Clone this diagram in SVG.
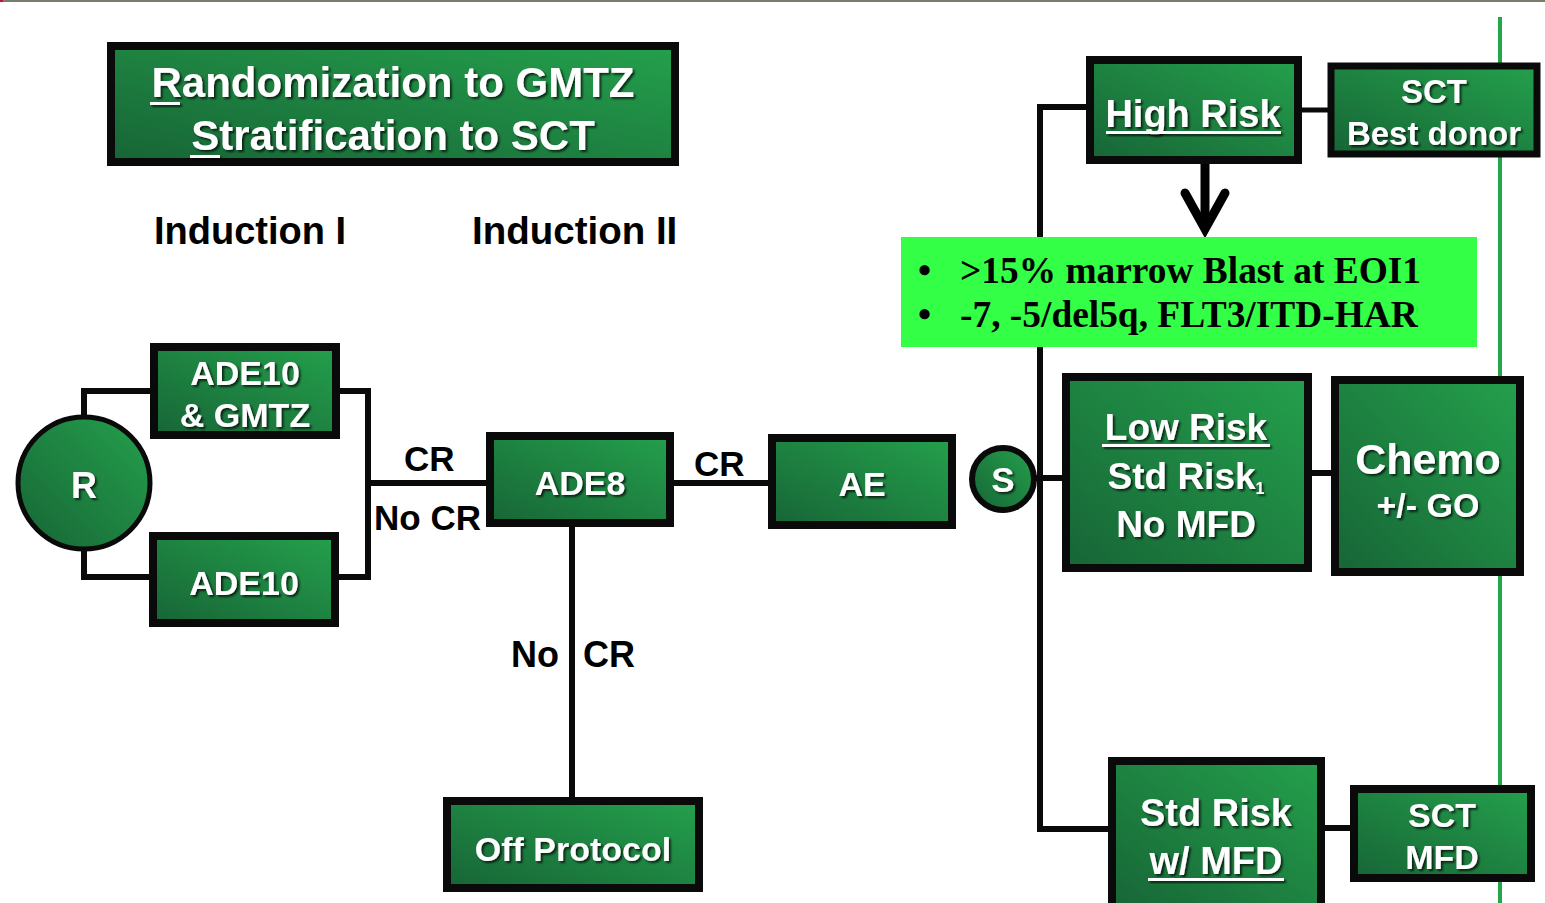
<svg xmlns="http://www.w3.org/2000/svg" width="1545" height="903" viewBox="0 0 1545 903">
<defs>
<linearGradient id="gf" x1="0" y1="1" x2="1" y2="0">
<stop offset="0" stop-color="#176536"/>
<stop offset="1" stop-color="#24a04c"/>
</linearGradient>
<filter id="sh" x="-10%" y="-50%" width="130%" height="250%">
<feDropShadow dx="2" dy="2" stdDeviation="1.2" flood-color="#000" flood-opacity="0.7"/>
</filter>
<style>
.box{fill:url(#gf);stroke:#0a0a0a;stroke-width:8}
.circ{fill:url(#gf);stroke:#0a0a0a;stroke-width:5}
.wt{fill:#fff;font-family:"Liberation Sans",Arial,sans-serif;font-weight:bold;text-anchor:middle;filter:url(#sh)}
.bt{fill:#000;font-family:"Liberation Sans",Arial,sans-serif;font-weight:bold}
.ln{fill:none;stroke:#0a0a0a;stroke-width:6}
.ul{fill:#fff;filter:url(#sh)}
.gt{fill:#000;font-family:"Liberation Serif","Times New Roman",serif;font-weight:bold;font-size:37.4px}
</style>
</defs>
<rect x="0" y="0" width="1545" height="903" fill="#fff"/>
<rect x="0" y="0" width="1545" height="2" fill="#7b7b6b"/>
<rect x="0" y="0" width="3" height="2" fill="#c0143c"/>
<rect x="1498" y="17" width="4" height="886" fill="#22a84a"/>

<g id="connectors">
<path class="ln" d="M84,419 V391 H153"/>
<path class="ln" d="M84,547 V577 H152"/>
<path class="ln" d="M337,391 H368 V577 H336"/>
<path class="ln" d="M368,483 H489"/>
<path class="ln" d="M671,483 H771"/>
<path class="ln" d="M572,524 V800"/>
<path class="ln" d="M1034,478 H1065"/>
<path class="ln" d="M1040,104 V832"/>
<path class="ln" d="M1037,107 H1089"/>
<path class="ln" d="M1037,829 H1111"/>
<path class="ln" d="M1299,110 H1330" style="stroke-width:5"/>
<path class="ln" d="M1309,473 H1334"/>
<path class="ln" d="M1322,828 H1353"/>
<path d="M1205,157 V226" fill="none" stroke="#000" stroke-width="9"/>
<polyline points="1185,193 1205,229 1225,193" fill="none" stroke="#000" stroke-width="9" stroke-linecap="round" stroke-linejoin="miter"/>
</g>

<g id="title">
<rect class="box" x="111" y="46" width="564" height="116"/>
<text class="wt" x="393" y="97" font-size="42">Randomization to GMTZ</text>
<text class="wt" x="393" y="150" font-size="42">Stratification to SCT</text>
<rect class="ul" x="150" y="102" width="30" height="3"/>
<rect class="ul" x="190" y="155" width="30" height="3"/>
</g>

<g id="induction-labels">
<text class="bt" x="154" y="244" font-size="38">Induction I</text>
<text class="bt" x="472" y="244" font-size="38.5">Induction II</text>
</g>

<g id="node-R">
<circle class="circ" cx="84" cy="483" r="66"/>
<text class="wt" x="84" y="498" font-size="36">R</text>
</g>

<g id="node-ade10-gmtz">
<rect class="box" x="154" y="347" width="182" height="88"/>
<text class="wt" x="245" y="385" font-size="34">ADE10</text>
<text class="wt" x="245" y="427" font-size="34">&amp; GMTZ</text>
</g>

<g id="node-ade10">
<rect class="box" x="153" y="536" width="182" height="87"/>
<text class="wt" x="244" y="595" font-size="34">ADE10</text>
</g>

<g id="labels-cr1">
<text class="bt" x="404" y="471" font-size="35">CR</text>
<text class="bt" x="374" y="530" font-size="35">No CR</text>
</g>

<g id="node-ade8">
<rect class="box" x="490" y="436" width="180" height="87"/>
<text class="wt" x="580" y="495" font-size="34">ADE8</text>
</g>

<g id="label-cr2">
<text class="bt" x="694" y="476" font-size="35">CR</text>
</g>

<g id="node-ae">
<rect class="box" x="772" y="438" width="180" height="87"/>
<text class="wt" x="862" y="496" font-size="34">AE</text>
</g>

<g id="label-nocr">
<text class="bt" x="511" y="667" font-size="36">No</text>
<text class="bt" x="583" y="667" font-size="36">CR</text>
</g>

<g id="node-off-protocol">
<rect class="box" x="447" y="801" width="252" height="87"/>
<text class="wt" x="573" y="861" font-size="34">Off Protocol</text>
</g>

<g id="node-S">
<circle class="circ" cx="1003" cy="479" r="31" style="stroke-width:6"/>
<text class="wt" x="1003" y="492" font-size="35">S</text>
</g>

<g id="node-high-risk">
<rect class="box" x="1090" y="60" width="208" height="100"/>
<text class="wt" x="1193" y="127" font-size="38">High Risk</text>
<rect class="ul" x="1106" y="131" width="175" height="3"/>
</g>

<g id="node-sct-best">
<rect class="box" x="1331" y="66" width="206" height="88" style="stroke-width:7"/>
<text class="wt" x="1434" y="103" font-size="33">SCT</text>
<text class="wt" x="1434" y="145" font-size="33">Best donor</text>
</g>

<g id="high-risk-criteria">
<rect x="901" y="237" width="576" height="110" fill="#33ff46"/>
<text class="gt" x="918" y="283">•</text>
<text class="gt" x="960" y="283">&gt;15% marrow Blast at EOI1</text>
<text class="gt" x="918" y="327">•</text>
<text class="gt" x="960" y="327">-7, -5/del5q, FLT3/ITD-HAR</text>
</g>

<g id="node-low-risk">
<rect class="box" x="1066" y="377" width="242" height="191"/>
<text class="wt" x="1186" y="440" font-size="37">Low Risk</text>
<rect class="ul" x="1102" y="444" width="168" height="3"/>
<text class="wt" x="1186" y="489" font-size="37">Std Risk<tspan font-size="16" dy="5">1</tspan></text>
<text class="wt" x="1186" y="537" font-size="37">No MFD</text>
</g>

<g id="node-chemo">
<rect class="box" x="1335" y="380" width="185" height="192"/>
<text class="wt" x="1428" y="474" font-size="43">Chemo</text>
<text class="wt" x="1428" y="517" font-size="34">+/- GO</text>
</g>

<g id="node-std-risk-mfd">
<rect class="box" x="1112" y="761" width="209" height="150"/>
<text class="wt" x="1216" y="826" font-size="38">Std Risk</text>
<text class="wt" x="1216" y="874" font-size="38">w/ MFD</text>
<rect class="ul" x="1148" y="878" width="136" height="3"/>
</g>

<g id="node-sct-mfd">
<rect class="box" x="1354" y="789" width="177" height="89"/>
<text class="wt" x="1442" y="827" font-size="34">SCT</text>
<text class="wt" x="1442" y="869" font-size="34">MFD</text>
</g>
</svg>
